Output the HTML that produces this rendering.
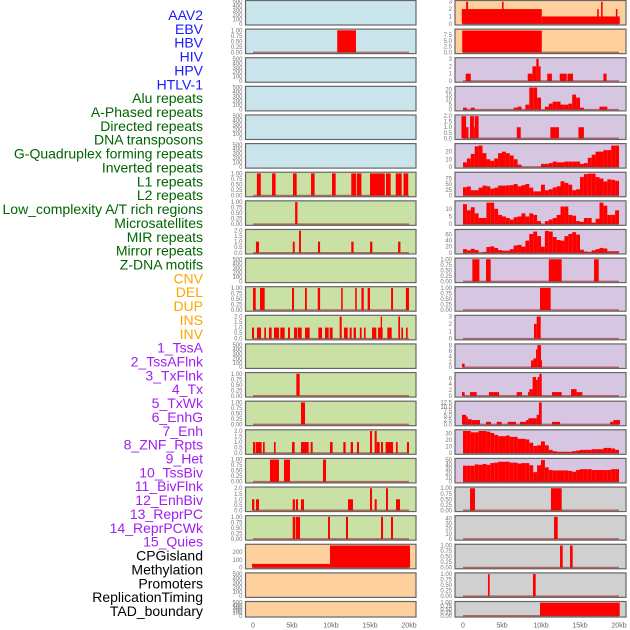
<!DOCTYPE html>
<html><head><meta charset="utf-8">
<style>
html,body{margin:0;padding:0;background:#fff;}
svg{display:block;font-family:"Liberation Sans",sans-serif;}
</style></head>
<body>
<svg id="chart" width="630" height="630" viewBox="0 0 630 630" xmlns="http://www.w3.org/2000/svg">
<g id="labels" font-size="14" text-anchor="end"></g>
<g id="panels"></g>
<g id="xaxes" font-size="7" fill="#666" text-anchor="middle"></g>
</svg>
<script>
// ---- label data ----
const labelNames = ["AAV2","EBV","HBV","HIV","HPV","HTLV-1","Alu repeats","A-Phased repeats","Directed repeats","DNA transposons","G-Quadruplex forming repeats","Inverted repeats","L1 repeats","L2 repeats","Low_complexity A/T rich regions","Microsatellites","MIR repeats","Mirror repeats","Z-DNA motifs","CNV","DEL","DUP","INS","INV","1_TssA","2_TssAFlnk","3_TxFlnk","4_Tx","5_TxWk","6_EnhG","7_Enh","8_ZNF_Rpts","9_Het","10_TssBiv","11_BivFlnk","12_EnhBiv","13_ReprPC","14_ReprPCWk","15_Quies","CPGisland","Methylation","Promoters","ReplicationTiming","TAD_boundary"];
const labelGroups = [6,13,5,15,5];
const groupColors = ["#1a1aff","#006400","#ffa500","#a020f0","#000000"];

// ---- x axis ticks ----
const xTickValues = [0,5,10,15,20];
const xTickLabels = ["0","5kb","10kb","15kb","20kb"];

// ---- tick label sets ----
const tEmpty = [0,100,200,300,400,500];
const tEmptyL = ["0","100","200","300","400","500"];
const tBin = [0,0.25,0.5,0.75,1];
const tBinL = ["0.00","0.25","0.50","0.75","1.00"];
const tTwo = [0,0.5,1,1.5,2];
const tTwoL = ["0.0","0.5","1.0","1.5","2.0"];

// ---- left column series (segments: start kb, end kb, value) ----
const L2 = [[10.8,13.2,1]];
const L7 = [[0.5,1.0,1],[2.44,2.9,1],[5.13,5.6,1],[7.44,7.9,1],[10.13,10.6,1],[12.6,13.2,1],[13.3,13.9,1],[15.0,16.9,1],[17.05,17.65,1],[18.3,19.06,1],[19.3,19.9,1]];
const L8 = [[5.4,5.7,1]];
const L9 = [[0.38,0.77,1],[5.1,5.35,1],[5.9,6.15,2],[8.33,8.6,1],[12.6,12.9,1],[15.0,15.3,1],[18.6,18.9,1]];
const L11 = [[0,0.35,1],[0.9,1.5,1],[5.0,5.26,1],[6.67,6.9,1],[8.3,8.6,1],[11.3,11.5,1],[13.1,13.3,1],[13.9,14.2,1],[14.7,15.0,1],[17.7,17.95,1],[19.6,20.0,1]];
const L12 = [[-0.13,0.13,1],[0.51,1.03,1],[1.45,1.67,1],[2.05,2.39,1],[2.69,3.33,1],[3.5,4.06,1],[4.49,4.74,1],[5.26,5.68,1],[5.77,6.24,1],[6.67,7.26,1],[8.38,8.85,1],[9.23,9.7,1],[9.83,10.21,1],[11.11,11.37,2],[11.67,12.14,1],[12.39,12.65,1],[12.9,13.2,1],[13.7,13.93,1],[14.23,14.44,1],[15.26,15.81,1],[16.03,16.62,1],[16.37,16.54,2],[17.22,17.78,1],[18.63,18.85,2],[19.02,19.23,1],[19.62,19.83,1]];
const L14 = [[5.56,5.98,1]];
const L15 = [[6.15,6.67,1]];
const L16 = [[0,0.3,1],[0.38,1.11,1],[1.28,1.5,1],[2.69,2.9,1],[5.0,5.34,1],[6.15,7.14,1],[7.39,7.65,1],[9.87,10.21,1],[11.58,11.88,1],[12.52,12.82,1],[13.33,13.59,1],[15.0,15.26,2],[15.6,15.86,2],[15.86,16.24,1],[16.41,16.67,1],[17.0,17.95,1],[18.33,18.55,1],[19.74,20.0,1]];
const L17 = [[2.18,3.33,1],[3.97,4.74,1],[8.97,9.36,1]];
const L18 = [[-0.13,0.17,1],[0.38,0.77,1],[5.09,5.38,1],[5.51,5.77,1],[6.15,6.54,1],[12.18,12.82,1],[15.0,15.26,2],[15.6,15.86,1],[17.05,17.31,2],[18.33,18.85,1]];
const L19 = [[5.09,5.43,1],[5.51,6.03,1],[9.62,9.87,1],[11.92,12.18,1],[16.41,16.67,1],[17.69,17.95,1]];
const L20 = [[-0.13,9.87,48],[9.87,20.13,288]];

// ---- right column series ----
const R1 = [[-0.15,10.1,2],[10.1,20.1,1],[0.4,0.65,3],[5.0,5.2,3],[17.2,17.4,2],[17.7,17.9,3],[19.6,19.8,2]];
const R2 = [[-0.1,10.1,9.4]];
const R3 = [[0.35,1.0,1],[8.3,8.9,1],[8.9,9.4,2],[9.4,9.7,3],[9.7,9.95,2],[10.8,11.4,1],[12.4,13.3,1],[13.4,14.1,1],[18.0,18.4,1]];
const R4bins = [2,0,2,0,0,0,0,0,0,0,0,0,0,2,3,0,5,22,22,12,0,3,6,8,8,5,5,6,15,12,2,0,0,0,0,3,3,0,0,0];
const R5 = [[-0.2,0.4,2],[0.4,0.7,1],[0.9,1.4,2],[1.4,1.5,1],[1.5,2.0,2],[6.9,7.4,1],[11.2,12.3,1],[14.8,15.5,1]];
const R6bins = [6,11,17,27,28,18,10,8,11,18,20,18,15,10,3,0,0,0,0,0,4,4,5,7,6,6,7,7,7,7,4,5,12,16,20,20,22,22,28,28];
const R7bins = [36,39,23,23,34,43,40,30,34,43,43,44,45,50,40,45,50,34,18,18,47,23,27,35,40,62,55,47,23,27,80,93,95,95,80,74,61,70,68,64];
const R8bins = [13,9,11,7,4,4,14,14,10,6,5,4,3,4.5,5,7,5,7,6,2,0,2,3,4,6,11.5,11.5,6,5.5,2,1.5,4,4,1,3.5,14,12,6,6,9];
const R9bins = [12,8,13,9,0,3,19,21,16,9,7,7,12,24,26,20,40,62,70,55,20,72,70,52,42,40,55,62,68,60,10,4,3,8,12,16,14,5,5,5];
const R10 = [[1.2,2.1,1],[2.95,3.55,1],[11.0,12.65,1],[16.8,17.4,1]];
const R11 = [[9.87,11.24,1]];
const R12 = [[9.1,9.45,2],[9.45,9.96,3]];
const R13 = [[-0.13,0.21,1.3],[8.72,9.02,2.5],[9.02,9.36,3.2],[9.36,9.53,6.5],[9.53,10.0,8.1],[10.0,10.13,2.5]];
const R14 = [[-0.13,0.21,1.3],[0.9,1.75,1.3],[3.33,4.62,1.3],[6.88,7.56,1.3],[8.33,8.5,1.3],[8.5,8.93,2.3],[8.93,9.36,6.5],[9.36,9.57,5.5],[9.57,9.79,6.5],[9.79,10.09,7.6],[11.41,12.65,1.3],[13.85,14.57,2.3],[14.57,15.3,1.3]];
const R15 = [[-0.13,0.38,5.5],[0.38,0.6,4.5],[0.6,1.11,3],[1.11,2.18,2.5],[2.95,3.59,1.5],[4.32,4.96,1.5],[5.73,6.8,1.5],[7.31,8.08,1.5],[8.08,8.38,2.5],[8.38,9.44,3.5],[9.44,9.74,5.5],[9.74,10.09,12.5],[11.41,12.44,1.5],[18.85,19.27,1.5],[19.27,20.13,2.5]];
const R16bins = [34,34,32,32,34,34,33,31,28,26,26,27,25,25,22,22,21,16,11,12,18,12,5,3,2,2,2,2,3,4,5,5,5,6,6,6,8,8,7,5];
const R17bins = [37,37,37,40,39,41,39,43,44,46,46,46,44,44,42,43,43,38,22,38,50,33,27,26,26,26,26,25,23,27,29,29,29,27,27,27,27,27,29,29];
const R18 = [[0.9,1.54,1],[11.28,12.65,1]];
const R19 = [[11.67,12.14,43]];
const R20 = [[12.44,12.78,1],[13.72,14.06,1]];
const R21 = [[3.2,3.42,1],[8.97,9.32,1]];
const R22 = [[9.87,20.09,1]];

const NS = "http://www.w3.org/2000/svg";
function mk(tag, attrs, parent){
  const e = document.createElementNS(NS, tag);
  for (const k in attrs) e.setAttribute(k, attrs[k]);
  parent.appendChild(e);
  return e;
}
function binsToSegs(bins){ return bins.map((v,i)=>[i*0.5, i*0.5+0.5, v]); }

// labels
const labG = document.getElementById("labels");
let li = 0;
labelGroups.forEach((n,g)=>{
  for (let k=0;k<n;k++){
    const t = mk("text",{x:203, y:(15 + li*13.86 + 5).toFixed(1), fill:groupColors[g]}, labG);
    t.textContent = labelNames[li];
    
    
    li++;
  }
});

const BLUE="#c9e4eb", GREEN="#c9e1a5", ORANGE="#fed09e", PURPLE="#d6c6e1", GRAY="#d0d0d0";
const leftCfg = [
 [BLUE,tEmpty,tEmptyL,500,null],
 [BLUE,tBin,tBinL,1,L2],
 [BLUE,tEmpty,tEmptyL,500,null],
 [BLUE,tEmpty,tEmptyL,500,null],
 [BLUE,tEmpty,tEmptyL,500,null],
 [BLUE,tEmpty,tEmptyL,500,null],
 [GREEN,tBin,tBinL,1,L7],
 [GREEN,tBin,tBinL,1,L8],
 [GREEN,tTwo,tTwoL,2,L9],
 [GREEN,tEmpty,tEmptyL,500,null],
 [GREEN,tBin,tBinL,1,L11],
 [GREEN,tTwo,tTwoL,2,L12],
 [GREEN,tEmpty,tEmptyL,500,null],
 [GREEN,tBin,tBinL,1,L14],
 [GREEN,tBin,tBinL,1,L15],
 [GREEN,tTwo,tTwoL,2,L16],
 [GREEN,tBin,tBinL,1,L17],
 [GREEN,tTwo,tTwoL,2,L18],
 [GREEN,tBin,tBinL,1,L19],
 [ORANGE,[0,100,200],["0","100","200"],288,L20],
 [ORANGE,tEmpty,tEmptyL,500,null],
 [ORANGE,tEmpty,tEmptyL,500,null]
];
const rightCfg = [
 [ORANGE,[0,1,2,3],["0","1","2","3"],3,R1],
 [ORANGE,[0,2.5,5,7.5],["0.0","2.5","5.0","7.5"],9.5,R2],
 [PURPLE,[0,1,2,3],["0","1","2","3"],3,R3],
 [PURPLE,[0,5,10,15,20],["0","5","10","15","20"],22,binsToSegs(R4bins)],
 [PURPLE,tTwo,tTwoL,2,R5],
 [PURPLE,[0,10,20],["0","10","20"],29,binsToSegs(R6bins)],
 [PURPLE,[0,25,50,75],["0","25","50","75"],96,binsToSegs(R7bins)],
 [PURPLE,[0,5,10],["0","5","10"],14.4,binsToSegs(R8bins)],
 [PURPLE,[0,20,40,60],["0","20","40","60"],73,binsToSegs(R9bins)],
 [PURPLE,tBin,tBinL,1,R10],
 [PURPLE,tBin,tBinL,1,R11],
 [PURPLE,[0,1,2,3],["0","1","2","3"],3,R12],
 [PURPLE,[0,2,4,6,8],["0","2","4","6","8"],8.1,R13],
 [PURPLE,[0,2,4,6],["0","2","4","6"],7.6,R14],
 [PURPLE,[0,2.5,5,7.5,10,12.5],["0.0","2.5","5.0","7.5","10.0","12.5"],12.5,R15],
 [PURPLE,[0,10,20,30],["0","10","20","30"],34,binsToSegs(R16bins)],
 [PURPLE,[0,10,20,30,40,50],["0","10","20","30","40","50"],51,binsToSegs(R17bins)],
 [GRAY,tBin,tBinL,1,R18],
 [GRAY,[0,10,20,30,40],["0","10","20","30","40"],43,R19],
 [GRAY,tBin,tBinL,1,R20],
 [GRAY,tBin,tBinL,1,R21],
 [GRAY,tBin,tBinL,1,R22]
];

const panG = document.getElementById("panels");
function drawPanel(col, i, cfg){
  const [bg, ticks, tickL, ymax, series] = cfg;
  const px = col ? 455 : 245.5, pw = col ? 171 : 170.5;
  const x0 = col ? 463 : 253, kbPx = 7.8;
  const top = 0.5 + 28.62*i, h = i < 21 ? 24.5 : 15.5;
  const xs = kb => x0 + kb*kbPx;
  const ys = v => top + h - 1.2 - (v/ymax)*(h - 2.4);
  const g = mk("g",{}, panG);
  
  
  const clipId = "c"+col+"_"+i;
  const cp = mk("clipPath",{id:clipId}, g);
  mk("rect",{x:px, y:top, width:pw, height:h}, cp);
  const bgR = mk("rect",{x:px, y:top, width:pw, height:h, fill:bg}, g);
  
  
  const bars = mk("g",{"clip-path":"url(#"+clipId+")"}, g);
  if (series){
    series.forEach(s=>{
      if (s[2] <= 0) return;
      const y1 = ys(s[2]), y0 = ys(0);
      const r = mk("rect",{x:xs(s[0]).toFixed(2), y:y1.toFixed(2), width:Math.max(0.8,(xs(s[1])-xs(s[0]))).toFixed(2), height:(y0-y1).toFixed(2), fill:"#ff0000"}, bars);
      
      
    });
    const bl = mk("line",{x1:xs(0), x2:xs(20), y1:ys(0), y2:ys(0), stroke:"rgba(160,30,30,0.6)", "stroke-width":1.6}, bars);
    
    
  }
  const br = mk("rect",{x:px, y:top, width:pw, height:h, fill:"none", stroke:"#666", "stroke-width":1.2}, g);
  
  
  const tg = mk("g",{"font-size":"6","fill":"#777","text-anchor":"end"}, g);
  ticks.forEach((t,k)=>{
    const tx = mk("text",{x:(px-3).toFixed(1), y:(ys(t)+2).toFixed(1)}, tg);
    tx.textContent = tickL[k];
    
    
  });
}
leftCfg.forEach((c,i)=>drawPanel(0,i,c));
rightCfg.forEach((c,i)=>drawPanel(1,i,c));

// x axes
const xa = document.getElementById("xaxes");
[253,463].forEach(base=>{
  xTickValues.forEach((v,k)=>{
    const t = mk("text",{x:(base+v*7.8).toFixed(1), y:627.5}, xa);
    t.textContent = xTickLabels[k];
    
    
  });
});
</script>
</body></html>
